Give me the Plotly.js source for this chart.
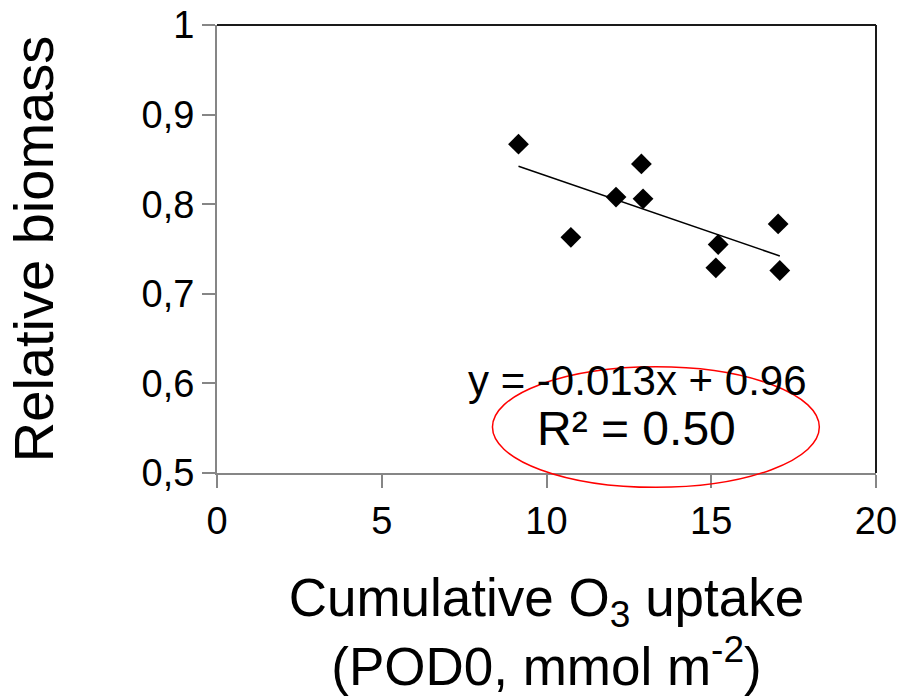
<!DOCTYPE html>
<html>
<head>
<meta charset="utf-8">
<script src="https://cdn.plot.ly/plotly-3.0.1.min.js"></script>
<style>html,body{margin:0;padding:0;background:#fff;}#chart{width:901px;height:699px;}</style>
</head>
<body>
<div id="chart"></div>
<script>
// Data
var pod0 = [9.15, 12.88, 12.11, 12.93, 10.74, 17.03, 15.21, 15.14, 17.08];
var relBiomass = [0.867, 0.845, 0.808, 0.806, 0.763, 0.778, 0.755, 0.729, 0.726];
var xTicks = [0, 5, 10, 15, 20];
var yTicks = [0.5, 0.6, 0.7, 0.8, 0.9, 1];
var equationText = "y = -0.013x + 0.96";
var r2Text = "R\u00b2 = 0.50";

// least-squares trend line from the data
var n = pod0.length, sx = 0, sy = 0, sxx = 0, sxy = 0;
for (var i = 0; i < n; i++) { sx += pod0[i]; sy += relBiomass[i]; sxx += pod0[i]*pod0[i]; sxy += pod0[i]*relBiomass[i]; }
var slope = (n*sxy - sx*sy) / (n*sxx - sx*sx);
var intercept = (sy - slope*sx) / n;
var xMin = Math.min.apply(null, pod0), xMax = Math.max.apply(null, pod0);
var trendX = [xMin, xMax];
var trendY = trendX.map(function(v){ return intercept + slope*v; });

var font = "Liberation Sans, Arial, sans-serif";
var traces = [
  {x: pod0, y: relBiomass, mode: "markers", type: "scatter",
   marker: {symbol: "diamond", size: 16, color: "#000"}, hoverinfo: "x+y"},
  {x: trendX, y: trendY, mode: "lines", type: "scatter",
   line: {color: "#000", width: 1.5}, hoverinfo: "skip"}
];

var layout = {
  width: 901, height: 699,
  margin: {l: 217, r: 25, t: 25, b: 226},
  paper_bgcolor: "#fff", plot_bgcolor: "#fff",
  showlegend: false,
  separators: ",.",
  font: {family: font, color: "#000"},
  xaxis: {
    range: [0, 20], tickvals: xTicks, showgrid: false, zeroline: false,
    showline: true, linecolor: "#868686", linewidth: 2,
    ticks: "outside", ticklen: 13, tickcolor: "#868686", tickwidth: 2,
    tickfont: {size: 38, family: font, color: "#000"},
    title: {text: "Cumulative O<sub>3</sub> uptake<br>(POD0, mmol m<sup>-2</sup>)",
            font: {size: 53, family: font, color: "#000"}, standoff: 38}
  },
  yaxis: {
    range: [0.5, 1], tickvals: yTicks, showgrid: false, zeroline: false,
    showline: true, linecolor: "#868686", linewidth: 2,
    ticks: "outside", ticklen: 13, tickcolor: "#868686", tickwidth: 2,
    tickfont: {size: 38, family: font, color: "#000"},
    title: {text: "Relative biomass", font: {size: 56, family: font, color: "#000"}, standoff: 70}
  },
  shapes: [
    {type: "line", xref: "paper", yref: "paper", x0: 0, x1: 1, y0: 1, y1: 1,
     line: {color: "#1a1a1a", width: 2}},
    {type: "line", xref: "paper", yref: "paper", x0: 1, x1: 1, y0: 0, y1: 1,
     line: {color: "#1a1a1a", width: 2}},
    {type: "circle", xref: "paper", yref: "paper", x0: 0.418, x1: 0.914, y0: -0.032, y1: 0.237,
     line: {color: "#ff0000", width: 1.5}}
  ],
  annotations: [
    {x: 12.75, y: 0.603, xref: "x", yref: "y", text: equationText, showarrow: false,
     font: {size: 42, family: font, color: "#000"}},
    {x: 12.72, y: 0.550, xref: "x", yref: "y", text: r2Text, showarrow: false,
     font: {size: 48, family: font, color: "#000"}}
  ]
};

Plotly.newPlot("chart", traces, layout, {displayModeBar: false, staticPlot: true});
</script>
</body>
</html>
